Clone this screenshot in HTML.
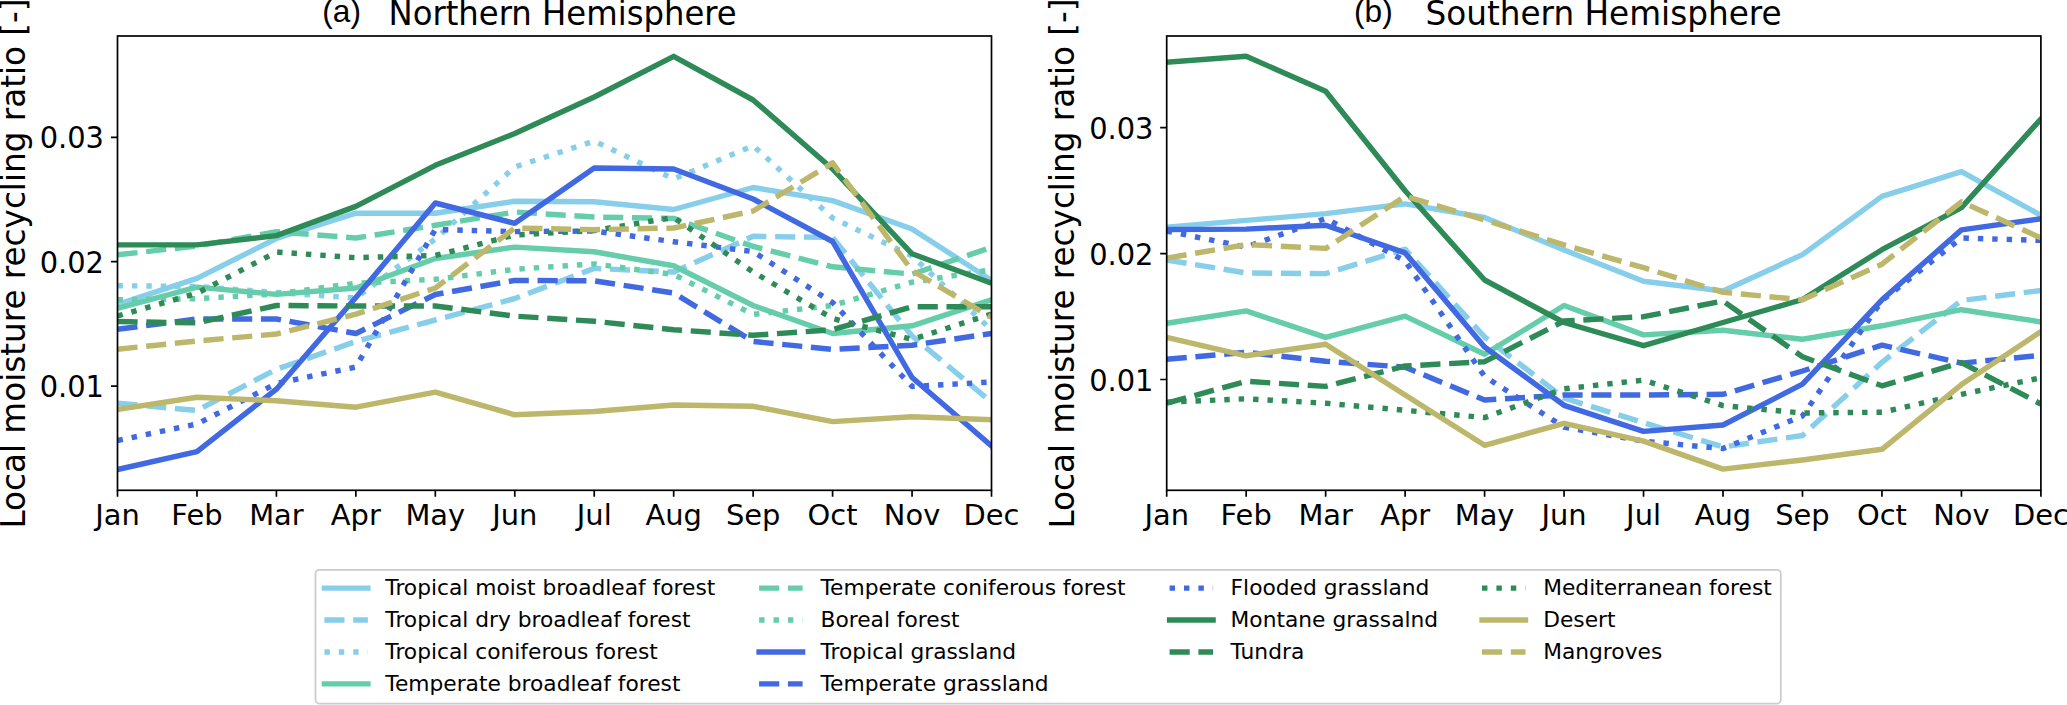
<!DOCTYPE html>
<html lang="en">
<head>
<meta charset="utf-8">
<title>Local moisture recycling ratio by biome</title>
<style>
html,body{margin:0;padding:0;background:#fff;}
body{width:2067px;height:705px;overflow:hidden;}
svg{display:block;}
text{white-space:pre;}
</style>
</head>
<body>
<svg width="2067" height="705" viewBox="0 0 2067 705" font-family="'DejaVu Sans', 'Liberation Sans', sans-serif" fill="#000">
<rect width="2067" height="705" fill="#fff"/>
<clipPath id="cl"><rect x="117.5" y="36" width="874" height="454.3"/></clipPath>
<g clip-path="url(#cl)" fill="none" stroke-width="5.44" stroke-linejoin="round">
<polyline points="117.5,304.5 196.95,278.4 276.41,238.5 355.86,213.2 435.32,213.2 514.77,201.3 594.23,201.7 673.68,209.5 753.14,187.5 832.59,200.6 912.05,229 991.5,280.3" stroke="#87ceeb" stroke-linecap="square"/>
<polyline points="117.5,403.2 196.95,410.5 276.41,369.3 355.86,341.5 435.32,320 514.77,298.5 594.23,268.4 673.68,272 753.14,236.3 832.59,237.5 912.05,336 991.5,402.2" stroke="#87ceeb" stroke-dasharray="20.12 8.7"/>
<polyline points="117.5,285.7 196.95,286.5 276.41,292.5 355.86,298 435.32,239 514.77,167 594.23,141 673.68,179 753.14,145.7 832.59,218 912.05,256 991.5,330" stroke="#87ceeb" stroke-dasharray="5.44 8.97"/>
<polyline points="117.5,308.4 196.95,287.1 276.41,294.4 355.86,288 435.32,258.5 514.77,247.1 594.23,251.8 673.68,265.8 753.14,305.5 832.59,333.5 912.05,325.8 991.5,299.7" stroke="#66cdaa" stroke-linecap="square"/>
<polyline points="117.5,254.8 196.95,246 276.41,231.8 355.86,238 435.32,225.3 514.77,212 594.23,217 673.68,218.4 753.14,246.4 832.59,266.8 912.05,274.1 991.5,247.4" stroke="#66cdaa" stroke-dasharray="20.12 8.7"/>
<polyline points="117.5,299.7 196.95,298.7 276.41,293.9 355.86,283.2 435.32,279.3 514.77,269.3 594.23,263.9 673.68,274.5 753.14,314.4 832.59,305.5 912.05,282.2 991.5,269.7" stroke="#66cdaa" stroke-dasharray="5.44 8.97"/>
<polyline points="117.5,469.5 196.95,451.7 276.41,389.2 355.86,297.5 435.32,203 514.77,223.3 594.23,168 673.68,169 753.14,199 832.59,241.5 912.05,377.5 991.5,445.8" stroke="#4169e1" stroke-linecap="square"/>
<polyline points="117.5,329.3 196.95,319 276.41,319 355.86,333.5 435.32,294.5 514.77,280.4 594.23,280.8 673.68,293 753.14,341.5 832.59,349.4 912.05,345.2 991.5,333.5" stroke="#4169e1" stroke-dasharray="20.12 8.7"/>
<polyline points="117.5,440.5 196.95,424 276.41,383.4 355.86,367 435.32,229.5 514.77,231.6 594.23,231 673.68,241.7 753.14,251.6 832.59,302.6 912.05,386.5 991.5,382" stroke="#4169e1" stroke-dasharray="5.44 8.97"/>
<polyline points="117.5,244.9 196.95,244.9 276.41,235.6 355.86,206.4 435.32,165.3 514.77,133.5 594.23,97 673.68,56.3 753.14,100 832.59,169 912.05,253.8 991.5,283.2" stroke="#2e8b57" stroke-linecap="square"/>
<polyline points="117.5,321.5 196.95,322.9 276.41,305.5 355.86,306 435.32,306 514.77,316.1 594.23,321.3 673.68,329.7 753.14,335.3 832.59,329.7 912.05,306.8 991.5,306.8" stroke="#2e8b57" stroke-dasharray="20.12 8.7"/>
<polyline points="117.5,316 196.95,293.3 276.41,252 355.86,257.7 435.32,255.5 514.77,235 594.23,230.5 673.68,217.5 753.14,272 832.59,318.4 912.05,339.4 991.5,314" stroke="#2e8b57" stroke-dasharray="5.44 8.97"/>
<polyline points="117.5,409.5 196.95,397.3 276.41,400.8 355.86,407.2 435.32,392.1 514.77,414.8 594.23,411.5 673.68,405 753.14,406.3 832.59,421.6 912.05,416.8 991.5,419.7" stroke="#bdb76b" stroke-linecap="square"/>
<polyline points="117.5,349.2 196.95,341 276.41,334 355.86,314.2 435.32,288 514.77,228 594.23,229.7 673.68,228 753.14,211 832.59,162.9 912.05,270.6 991.5,317.5" stroke="#bdb76b" stroke-dasharray="20.12 8.7"/>
</g>
<rect x="117.5" y="36" width="874" height="454.3" fill="none" stroke="#000" stroke-width="1.7"/>
<path d="M117.5 490.3v6.5M196.95 490.3v6.5M276.41 490.3v6.5M355.86 490.3v6.5M435.32 490.3v6.5M514.77 490.3v6.5M594.23 490.3v6.5M673.68 490.3v6.5M753.14 490.3v6.5M832.59 490.3v6.5M912.05 490.3v6.5M991.5 490.3v6.5M117.5 137.3h-6.5M117.5 261.7h-6.5M117.5 386.1h-6.5" stroke="#000" stroke-width="1.7" fill="none"/>
<g font-size="28.9" text-anchor="middle">
<text x="117.5" y="524.6">Jan</text>
<text x="196.95" y="524.6">Feb</text>
<text x="276.41" y="524.6">Mar</text>
<text x="355.86" y="524.6">Apr</text>
<text x="435.32" y="524.6">May</text>
<text x="514.77" y="524.6">Jun</text>
<text x="594.23" y="524.6">Jul</text>
<text x="673.68" y="524.6">Aug</text>
<text x="753.14" y="524.6">Sep</text>
<text x="832.59" y="524.6">Oct</text>
<text x="912.05" y="524.6">Nov</text>
<text x="991.5" y="524.6">Dec</text>
</g>
<g font-size="28.9" text-anchor="end">
<text transform="translate(104 148.45) scale(1 1.05)">0.03</text>
<text transform="translate(104 272.85) scale(1 1.05)">0.02</text>
<text transform="translate(104 397.25) scale(1 1.05)">0.01</text>
</g>
<text x="322.3" y="21.85" font-size="31.6" font-family="'Liberation Sans', Arial, sans-serif">(a)</text>
<text transform="translate(388.5 24.85) scale(1 1.04)" font-size="32.3">Northern Hemisphere</text>
<text transform="translate(25.2 263.5) rotate(-90) scale(1 1.04)" font-size="32.66" text-anchor="middle">Local moisture recycling ratio [-]</text>
<clipPath id="cr"><rect x="1166.7" y="36" width="874.2" height="454.3"/></clipPath>
<g clip-path="url(#cr)" fill="none" stroke-width="5.44" stroke-linejoin="round">
<polyline points="1166.7,227.2 1246.17,220.4 1325.65,213.6 1405.12,203.9 1484.59,217.5 1564.06,250 1643.54,281.3 1723.01,291 1802.48,254.6 1881.95,196.4 1961.43,171.7 2040.9,215.3" stroke="#87ceeb" stroke-linecap="square"/>
<polyline points="1166.7,260 1246.17,273 1325.65,273.6 1405.12,249.2 1484.59,337 1564.06,398 1643.54,422.7 1723.01,447 1802.48,435.5 1881.95,362.3 1961.43,300.5 2040.9,290.5" stroke="#87ceeb" stroke-dasharray="20.12 8.7"/>
<polyline points="1166.7,323.3 1246.17,310.9 1325.65,337.4 1405.12,316.1 1484.59,354.3 1564.06,305.5 1643.54,334.9 1723.01,330.3 1802.48,339.2 1881.95,325.8 1961.43,309.7 2040.9,321.9" stroke="#66cdaa" stroke-linecap="square"/>
<polyline points="1166.7,229.5 1246.17,229.1 1325.65,225.2 1405.12,252.9 1484.59,347 1564.06,405.3 1643.54,431.4 1723.01,425 1802.48,384.2 1881.95,299.8 1961.43,229.9 2040.9,218.7" stroke="#4169e1" stroke-linecap="square"/>
<polyline points="1166.7,359.3 1246.17,352.3 1325.65,361.2 1405.12,367.2 1484.59,400 1564.06,395 1643.54,395 1723.01,394.3 1802.48,371 1881.95,345.2 1961.43,363.1 2040.9,355.4" stroke="#4169e1" stroke-dasharray="20.12 8.7"/>
<polyline points="1166.7,231 1246.17,247.1 1325.65,218.4 1405.12,261 1484.59,376.5 1564.06,427.1 1643.54,441.1 1723.01,448.6 1802.48,416 1881.95,300.6 1961.43,238 2040.9,240.4" stroke="#4169e1" stroke-dasharray="5.44 8.97"/>
<polyline points="1166.7,62.1 1246.17,56.3 1325.65,91.2 1405.12,190.8 1484.59,280 1564.06,322.5 1643.54,345.7 1723.01,322.5 1802.48,299.5 1881.95,249.7 1961.43,207.6 2040.9,119" stroke="#2e8b57" stroke-linecap="square"/>
<polyline points="1166.7,403.2 1246.17,381.3 1325.65,386.4 1405.12,366 1484.59,361.7 1564.06,321 1643.54,316.7 1723.01,301 1802.48,356.8 1881.95,385.8 1961.43,362.6 2040.9,404" stroke="#2e8b57" stroke-dasharray="20.12 8.7"/>
<polyline points="1166.7,402.2 1246.17,398.8 1325.65,403.2 1405.12,410.3 1484.59,417.6 1564.06,388.8 1643.54,380.1 1723.01,405.6 1802.48,413 1881.95,412.2 1961.43,394.3 2040.9,377.8" stroke="#2e8b57" stroke-dasharray="5.44 8.97"/>
<polyline points="1166.7,337.4 1246.17,355.8 1325.65,344.2 1405.12,395 1484.59,445.3 1564.06,423.3 1643.54,441.1 1723.01,469.1 1802.48,460 1881.95,449.3 1961.43,384.6 2040.9,331.6" stroke="#bdb76b" stroke-linecap="square"/>
<polyline points="1166.7,258.1 1246.17,244.6 1325.65,248.4 1405.12,196.2 1484.59,220 1564.06,244.9 1643.54,267.7 1723.01,292.3 1802.48,299.8 1881.95,264.2 1961.43,201.8 2040.9,238" stroke="#bdb76b" stroke-dasharray="20.12 8.7"/>
</g>
<rect x="1166.7" y="36" width="874.2" height="454.3" fill="none" stroke="#000" stroke-width="1.7"/>
<path d="M1166.7 490.3v6.5M1246.17 490.3v6.5M1325.65 490.3v6.5M1405.12 490.3v6.5M1484.59 490.3v6.5M1564.06 490.3v6.5M1643.54 490.3v6.5M1723.01 490.3v6.5M1802.48 490.3v6.5M1881.95 490.3v6.5M1961.43 490.3v6.5M2040.9 490.3v6.5M1166.7 127.7h-6.5M1166.7 253.6h-6.5M1166.7 379.5h-6.5" stroke="#000" stroke-width="1.7" fill="none"/>
<g font-size="28.9" text-anchor="middle">
<text x="1166.7" y="524.6">Jan</text>
<text x="1246.17" y="524.6">Feb</text>
<text x="1325.65" y="524.6">Mar</text>
<text x="1405.12" y="524.6">Apr</text>
<text x="1484.59" y="524.6">May</text>
<text x="1564.06" y="524.6">Jun</text>
<text x="1643.54" y="524.6">Jul</text>
<text x="1723.01" y="524.6">Aug</text>
<text x="1802.48" y="524.6">Sep</text>
<text x="1881.95" y="524.6">Oct</text>
<text x="1961.43" y="524.6">Nov</text>
<text x="2040.9" y="524.6">Dec</text>
</g>
<g font-size="28.9" text-anchor="end">
<text transform="translate(1153.5 138.85) scale(1 1.05)">0.03</text>
<text transform="translate(1153.5 264.75) scale(1 1.05)">0.02</text>
<text transform="translate(1153.5 390.65) scale(1 1.05)">0.01</text>
</g>
<text x="1354.1" y="21.85" font-size="31.6" font-family="'Liberation Sans', Arial, sans-serif">(b)</text>
<text transform="translate(1425.4 24.85) scale(1 1.04)" font-size="32.7">Southern Hemisphere</text>
<text transform="translate(1074 263.5) rotate(-90) scale(1 1.04)" font-size="32.66" text-anchor="middle">Local moisture recycling ratio [-]</text>
<rect x="315.5" y="569.8" width="1465.3" height="133.8" rx="3.8" ry="3.8" fill="#fff" stroke="#cccccc" stroke-width="1.8"/>
<g fill="none" stroke-width="5.4">
<path d="M324.4 588.15h43.5" stroke="#87ceeb" stroke-linecap="square"/>
<path d="M324.4 620.05h43.5" stroke="#87ceeb" stroke-dasharray="20.12 8.7"/>
<path d="M324.4 651.95h43.5" stroke="#87ceeb" stroke-dasharray="5.44 8.97"/>
<path d="M324.4 683.85h43.5" stroke="#66cdaa" stroke-linecap="square"/>
<path d="M759.1 588.15h43.5" stroke="#66cdaa" stroke-dasharray="20.12 8.7"/>
<path d="M759.1 620.05h43.5" stroke="#66cdaa" stroke-dasharray="5.44 8.97"/>
<path d="M759.1 651.95h43.5" stroke="#4169e1" stroke-linecap="square"/>
<path d="M759.1 683.85h43.5" stroke="#4169e1" stroke-dasharray="20.12 8.7"/>
<path d="M1169.6 588.15h43.5" stroke="#4169e1" stroke-dasharray="5.44 8.97"/>
<path d="M1169.6 620.05h43.5" stroke="#2e8b57" stroke-linecap="square"/>
<path d="M1169.6 651.95h43.5" stroke="#2e8b57" stroke-dasharray="20.12 8.7"/>
<path d="M1482 588.15h43.5" stroke="#2e8b57" stroke-dasharray="5.44 8.97"/>
<path d="M1482 620.05h43.5" stroke="#bdb76b" stroke-linecap="square"/>
<path d="M1482 651.95h43.5" stroke="#bdb76b" stroke-dasharray="20.12 8.7"/>
</g>
<g font-size="21.75">
<text x="385.3" y="595.2">Tropical moist broadleaf forest</text>
<text x="385.3" y="627.1">Tropical dry broadleaf forest</text>
<text x="385.3" y="659">Tropical coniferous forest</text>
<text x="385.3" y="690.9">Temperate broadleaf forest</text>
<text x="820.5" y="595.2">Temperate coniferous forest</text>
<text x="820.5" y="627.1">Boreal forest</text>
<text x="820.5" y="659">Tropical grassland</text>
<text x="820.5" y="690.9">Temperate grassland</text>
<text x="1230.6" y="595.2">Flooded grassland</text>
<text x="1230.6" y="627.1">Montane grassalnd</text>
<text x="1230.6" y="659">Tundra</text>
<text x="1543.2" y="595.2">Mediterranean forest</text>
<text x="1543.2" y="627.1">Desert</text>
<text x="1543.2" y="659">Mangroves</text>
</g>
</svg>
</body>
</html>
